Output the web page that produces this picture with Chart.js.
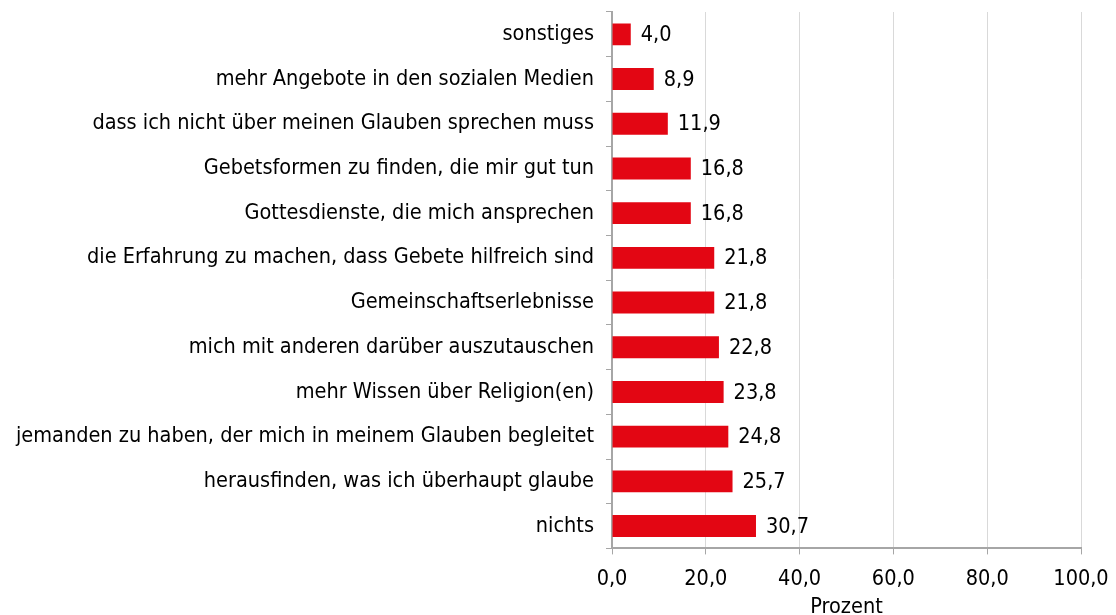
<!DOCTYPE html>
<html>
<head>
<meta charset="utf-8">
<script src="https://cdn.jsdelivr.net/npm/chart.js@4"></script>
<style>
  html, body { margin: 0; padding: 0; background: #fff; }
  #wrap { width: 1116px; height: 615px; }
</style>
</head>
<body>
<div id="wrap"><canvas id="chart"></canvas></div>
<script>
// categories top to bottom, as in the picture
const categories = [
    'sonstiges',
    'mehr Angebote in den sozialen Medien',
    'dass ich nicht über meinen Glauben sprechen muss',
    'Gebetsformen zu finden, die mir gut tun',
    'Gottesdienste, die mich ansprechen',
    'die Erfahrung zu machen, dass Gebete hilfreich sind',
    'Gemeinschaftserlebnisse',
    'mich mit anderen darüber auszutauschen',
    'mehr Wissen über Religion(en)',
    'jemanden zu haben, der mich in meinem Glauben begleitet',
    'herausfinden, was ich überhaupt glaube',
    'nichts'
];
const values = [4.0, 8.9, 11.9, 16.8, 16.8, 21.8, 21.8, 22.8, 23.8, 24.8, 25.7, 30.7];
const xTicks = [0, 20, 40, 60, 80, 100];

const FONT = "'DejaVu Sans Condensed', 'DejaVu Sans', sans-serif";
const FSIZE = 21.5;
const fmt = (v) => v.toFixed(1).replace('.', ',');

// value labels right of each bar
const valueLabels = {
    id: 'valueLabels',
    afterDatasetsDraw(chart) {
        const ctx = chart.ctx;
        const meta = chart.getDatasetMeta(0);
        ctx.save();
        ctx.font = FSIZE + 'px ' + FONT;
        ctx.fillStyle = '#000';
        ctx.textAlign = 'left';
        ctx.textBaseline = 'middle';
        meta.data.forEach((bar, i) => {
            ctx.fillText(fmt(values[i]), bar.x + 10, bar.y + 1);
        });
        ctx.restore();
    }
};

new Chart(document.getElementById('chart'), {
    type: 'bar',
    data: {
        labels: categories,
        datasets: [{
            data: values,
            backgroundColor: '#e30613',
            borderWidth: 0,
            barPercentage: 0.49,
            categoryPercentage: 1
        }]
    },
    options: {
        indexAxis: 'y',
        responsive: true,
        maintainAspectRatio: false,
        animation: false,
        layout: { padding: { left: 0, right: 35, top: 12, bottom: 0 } },
        plugins: {
            legend: { display: false },
            tooltip: { enabled: false }
        },
        scales: {
            y: {
                afterFit: (scale) => {
                    scale.width = 612;
                    scale.paddingTop = 0;
                    scale.paddingBottom = 0;
                },
                grid: {
                    drawOnChartArea: false,
                    drawTicks: true,
                    tickLength: 6,
                    color: '#a6a6a6',
                    offset: true
                },
                border: { color: '#a6a6a6', width: 2 },
                ticks: {
                    color: '#000',
                    font: { family: FONT, size: FSIZE },
                    padding: 12
                }
            },
            x: {
                min: 0,
                max: 100,
                afterBuildTicks: (scale) => { scale.ticks = xTicks.map(v => ({ value: v })); },
                afterFit: (scale) => {
                    scale.paddingLeft = 0;
                    scale.paddingRight = 0;
                },
                grid: {
                    color: '#d9d9d9',
                    lineWidth: 1,
                    tickLength: 6,
                    tickColor: '#a6a6a6'
                },
                border: { color: '#a6a6a6', width: 2 },
                ticks: {
                    color: '#000',
                    font: { family: FONT, size: FSIZE },
                    padding: 12,
                    callback: (v) => fmt(v)
                },
                title: {
                    display: true,
                    text: 'Prozent',
                    color: '#000',
                    font: { family: FONT, size: FSIZE },
                    padding: { top: -10, bottom: -5 }
                }
            }
        }
    },
    plugins: [valueLabels]
});
</script>
</body>
</html>
